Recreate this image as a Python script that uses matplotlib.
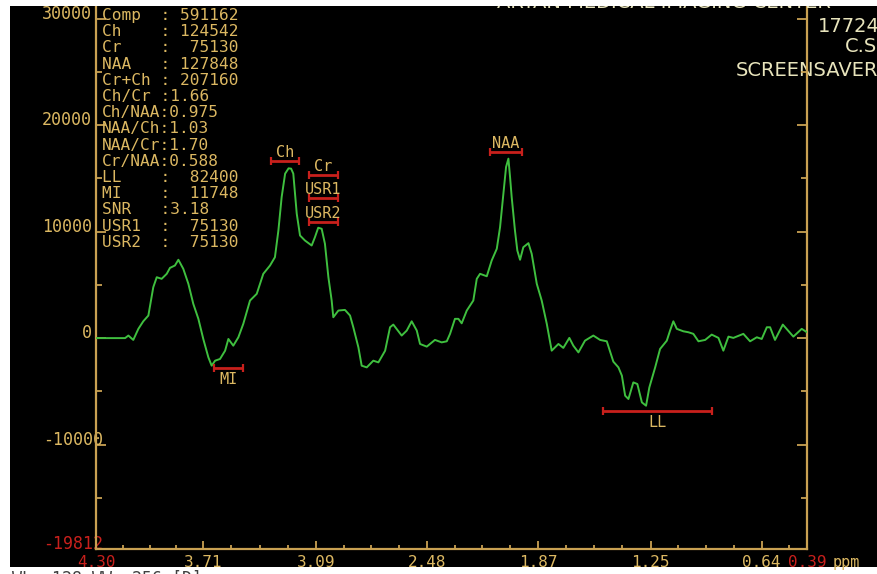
import matplotlib
matplotlib.use('Agg')
import matplotlib.pyplot as plt
from matplotlib.patches import Rectangle
from matplotlib.transforms import ScaledTranslation
import numpy as np

# ---------------- data ----------------
ppm = [4.300, 4.140, 4.122, 4.095, 4.067, 4.040, 4.012, 3.985, 3.966, 3.939,
       3.911, 3.893, 3.866, 3.847, 3.820, 3.792, 3.765, 3.737, 3.710, 3.682,
       3.664, 3.645, 3.618, 3.590, 3.572, 3.545, 3.517, 3.490, 3.453, 3.416,
       3.380, 3.343, 3.316, 3.297, 3.279, 3.260, 3.241, 3.227, 3.215, 3.196,
       3.178, 3.151, 3.114, 3.096, 3.078, 3.059, 3.041, 3.022, 3.004, 2.995,
       2.967, 2.931, 2.903, 2.885, 2.857, 2.839, 2.811, 2.775, 2.747, 2.710,
       2.683, 2.665, 2.619, 2.591, 2.564, 2.536, 2.518, 2.481, 2.436, 2.399,
       2.371, 2.353, 2.326, 2.307, 2.289, 2.261, 2.225, 2.206, 2.188, 2.151,
       2.124, 2.096, 2.078, 2.060, 2.045, 2.032, 2.023, 2.014, 1.996, 1.983,
       1.968, 1.950, 1.922, 1.904, 1.876, 1.849, 1.821, 1.794, 1.757, 1.730,
       1.697, 1.675, 1.647, 1.611, 1.565, 1.528, 1.491, 1.455, 1.427, 1.408,
       1.390, 1.372, 1.345, 1.323, 1.298, 1.275, 1.257, 1.225, 1.198, 1.161,
       1.143, 1.125, 1.106, 1.070, 1.042, 1.015, 0.987, 0.950, 0.914, 0.877,
       0.850, 0.822, 0.795, 0.740, 0.703, 0.666, 0.639, 0.611, 0.593, 0.566,
       0.523, 0.465, 0.419, 0.390]
intensity = [0, 0, 240, -170, 870, 1580, 2120, 4780, 5720, 5570,
             6040, 6600, 6820, 7360, 6510, 5100, 3220, 1810, -80, -1810,
             -2590, -2120, -1960, -1180, -80, -710, 80, 1340, 3530, 4160,
             6040, 6820, 7600, 10110, 13250, 15450, 15950, 15920, 15450, 11680,
             9640, 9170, 8700, 9480, 10370, 10270, 8860, 5720, 3530, 1960,
             2590, 2650, 2120, 1020, -870, -2590, -2750, -2120, -2280, -1180,
             1020, 1270, 240, 710, 1580, 710, -550, -800, -170, -400,
             -300, 400, 1810, 1810, 1390, 2590, 3530, 5570, 6040, 5810,
             7290, 8390, 10420, 13560, 16070, 16860, 15130, 13250, 10110, 8230,
             7360, 8540, 8920, 7920, 5100, 3530, 1340, -1180, -550, -920,
             20, -710, -1340, -240, 240, -170, -300, -2210, -2750, -3530,
             -5410, -5720, -4160, -4310, -6040, -6350, -4630, -2750, -1020, -240,
             710, 1580, 870, 640, 550, 400, -300, -170, 330, 20,
             -1180, 140, 20, 400, -300, 80, -80, 1020, 1020, -170,
             1270, 140, 870, 550]

peak_names = ['Ch', 'Cr', 'USR1', 'USR2', 'NAA', 'MI', 'LL']
peak_center = [3.260, 3.049, 3.049, 3.049, 2.045, 3.571, 1.212]
peak_halfwidth = [0.077, 0.080, 0.080, 0.080, 0.088, 0.080, 0.300]
peak_level = [16600, 15290, 13130, 10870, 17450, -2780, -6820]
label_below = [False, False, False, False, False, True, True]

info_lines = ['Comp  : 591162', 'Ch    : 124542', 'Cr    :  75130',
              'NAA   : 127848', 'Cr+Ch : 207160', 'Ch/Cr :1.66',
              'Ch/NAA:0.975', 'NAA/Ch:1.03', 'NAA/Cr:1.70', 'Cr/NAA:0.588',
              'LL    :  82400', 'MI    :  11748', 'SNR   :3.18',
              'USR1  :  75130', 'USR2  :  75130']

x_left, x_right = 4.30, 0.39
x_tick_values = [3.71, 3.09, 2.48, 1.87, 1.25, 0.64]
y_tick_values = [30000, 20000, 10000, 0, -10000]
y_minor_values = [25000, 15000, 5000, -5000, -15000]
y_bottom, y_top = -19812, 31200

header_lines = ['ARYAN MEDICAL IMAGING CENTER', '17724', 'C.S', 'SCREENSAVER']
footer_text = 'WL: 128 WW: 256 [D]'

# ---------------- styles ----------------
AX = '#c9a152'
TXT = '#dcb862'
RED = '#c8201c'
GREEN = '#3fbf3f'
CREAM = '#e8e4bc'
MONO = 'DejaVu Sans Mono'

W, H = 877, 574
fig = plt.figure(figsize=(W / 100, H / 100), dpi=100, facecolor='white')

def fx(px):
    return px / W

def fy(py):
    return (H - py) / H

# black screen area
fig.patches.append(Rectangle((fx(10), fy(567)), 1 - fx(10), fy(6) - fy(567),
                             transform=fig.transFigure, facecolor='black',
                             edgecolor='none', zorder=-10))

ax = fig.add_axes([fx(96), fy(549), fx(711), 543 / H])
ax.set_facecolor('none')
ax.set_xlim(x_left, x_right)
ax.set_ylim(y_bottom, y_top)

for s in ['left', 'right', 'bottom']:
    ax.spines[s].set_color(AX)
    ax.spines[s].set_linewidth(1.6)
ax.spines['top'].set_visible(False)

# spectrum
ax.plot(ppm, intensity, color=GREEN, lw=1.4, zorder=3)

# peak integration bars
ax.errorbar(peak_center, peak_level, xerr=peak_halfwidth, fmt='none',
            ecolor=RED, elinewidth=2, capsize=3.2, capthick=1.6, zorder=4)
for name, c, lv, below in zip(peak_names, peak_center, peak_level, label_below):
    ax.annotate(name, (c, lv), xytext=(0, -8.5 if below else 6.2),
                textcoords='offset points', ha='center', va='center',
                color=TXT, fontsize=11, family=MONO, zorder=5)

# x ticks
bounds = [x_left] + x_tick_values
x_minor = []
for a, b in zip(bounds[:-1], bounds[1:]):
    x_minor += [a + (b - a) * k / 4 for k in (1, 2, 3)]
x_minor.append(x_tick_values[-1] - (x_tick_values[-2] - x_tick_values[-1]) / 4)
xt = [x_left] + x_tick_values + [x_right]
ax.set_xticks(xt)
ax.set_xticklabels(['%.2f' % v for v in xt], family=MONO, fontsize=11.5)
ax.set_xticks(x_minor, minor=True)
ax.tick_params(axis='x', which='major', direction='in', length=6, width=1.3,
               color=AX, labelcolor=TXT, pad=4)
ax.tick_params(axis='x', which='minor', direction='in', length=3, width=1.3,
               color=AX)
xl = ax.get_xticklabels()
xl[0].set_color(RED)
xl[-1].set_color(RED)

# y ticks
yt = y_tick_values + [y_bottom]
ax.set_yticks(yt)
ax.set_yticklabels(['%d' % v for v in yt], family=MONO, fontsize=12)
ax.set_yticks(y_minor_values, minor=True)
ax.tick_params(axis='y', which='major', direction='in', length=7, width=1.3,
               color=AX, labelcolor=TXT, pad=3, left=True, right=True)
ax.tick_params(axis='y', which='minor', direction='in', length=4, width=1.3,
               color=AX, left=True, right=True)
for lab, v in zip(ax.get_yticklabels(), yt):
    dx = 11 / 100 if v < 0 else 0
    dy = 7 / 100
    lab.set_transform(lab.get_transform() +
                      ScaledTranslation(dx, dy, fig.dpi_scale_trans))
    if v == y_bottom:
        lab.set_color(RED)

fig.text(fx(846), fy(563), 'ppm', color=TXT, fontsize=11, family=MONO,
         ha='center', va='center')

# info block, fixed row pitch
for i, line in enumerate(info_lines):
    fig.text(fx(102), fy(15.5 + i * 16.2), line, color=TXT, fontsize=11.6,
             family=MONO, ha='left', va='center')

# header (clipped by the screen edges)
fig.text(fx(497), fy(2), header_lines[0], color=CREAM, fontsize=14,
         family='DejaVu Sans', ha='left', va='center')
fig.text(fx(818), fy(27), header_lines[1], color=CREAM, fontsize=14,
         family='DejaVu Sans', ha='left', va='center')
fig.text(fx(845), fy(47), header_lines[2], color=CREAM, fontsize=14,
         family='DejaVu Sans', ha='left', va='center')
fig.text(fx(736), fy(70), header_lines[3], color=CREAM, fontsize=14,
         family='DejaVu Sans', ha='left', va='center', zorder=-5)

# white frame strips over the screen edge
fig.patches.append(Rectangle((0, fy(6)), 1, 6 / H, transform=fig.transFigure,
                             facecolor='white', edgecolor='none', zorder=20))
fig.patches.append(Rectangle((0, 0), fx(10), 1, transform=fig.transFigure,
                             facecolor='white', edgecolor='none', zorder=20))
fig.text(fx(12), fy(579), footer_text, color='#404040', fontsize=12,
         family=MONO, ha='left', va='center', zorder=21)

fig.savefig('out.png', dpi=100, facecolor='white')
